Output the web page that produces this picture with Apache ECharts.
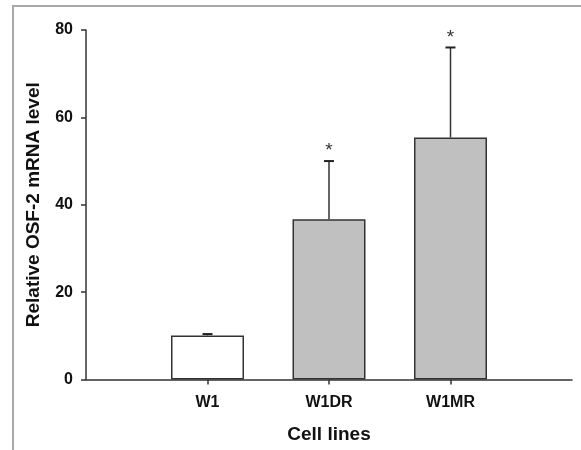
<!DOCTYPE html>
<html>
<head>
<meta charset="utf-8">
<script src="https://cdn.jsdelivr.net/npm/echarts@6/dist/echarts.min.js"></script>
<style>
html,body{margin:0;padding:0;background:#fff;}
#chart{width:581px;height:450px;}
</style>
</head>
<body>
<div id="chart"></div>
<script>
// ---- data ----
var categories = ['W1', 'W1DR', 'W1MR'];
var means = [10.1, 36.7, 55.4];
var errors = [0.3, 13.3, 20.6];
var significance = ['', '*', '*'];
var barColors = ['#ffffff', '#c0c0c0', '#c0c0c0'];
var yTickValues = [0, 20, 40, 60, 80];
var xTitle = 'Cell lines';
var yTitle = 'Relative OSF-2 mRNA level';

// padded category axis: empty slots at both ends (axis spans 4 intervals)
var axisCats = [''].concat(categories, ['']);
var barData = axisCats.map(function (c, i) {
  var k = i - 1;
  if (k < 0 || k >= categories.length) return '-';
  return { value: means[k], itemStyle: { color: barColors[k] } };
});
var errData = categories.map(function (c, k) {
  return [k + 1, means[k], means[k] + errors[k], significance[k]];
});

var FONT = 'Liberation Sans, Arial, sans-serif';
var chart = echarts.init(document.getElementById('chart'), null, { renderer: 'canvas' });
chart.setOption({
  animation: false,
  backgroundColor: '#ffffff',
  graphic: [{
    type: 'rect',
    shape: { x: 13, y: 6, width: 700, height: 600 },
    style: { fill: 'none', stroke: '#a8a8a8', lineWidth: 2 },
    z: -1
  }],
  grid: { left: 86, right: 9, top: 30, bottom: 70.5, containLabel: false },
  xAxis: {
    type: 'category',
    data: axisCats,
    boundaryGap: false,
    name: xTitle,
    nameLocation: 'middle',
    nameGap: 46,
    nameTextStyle: { fontFamily: FONT, fontWeight: 'bold', fontSize: 19, color: '#111' },
    axisLine: { lineStyle: { color: '#333', width: 1.5 } },
    axisTick: {
      show: true, length: 5, inside: false,
      interval: function (idx) { return idx >= 1 && idx <= categories.length; },
      lineStyle: { color: '#333', width: 1.5 }
    },
    axisLabel: {
      margin: 15,
      interval: 0,
      fontFamily: FONT, fontWeight: 'bold', fontSize: 16, color: '#111'
    },
    splitLine: { show: false }
  },
  yAxis: {
    type: 'value',
    min: yTickValues[0],
    max: yTickValues[yTickValues.length - 1],
    interval: yTickValues[1] - yTickValues[0],
    name: yTitle,
    nameLocation: 'middle',
    nameGap: 43,
    nameTextStyle: { fontFamily: FONT, fontWeight: 'bold', fontSize: 19, color: '#111' },
    axisLine: { show: true, lineStyle: { color: '#333', width: 1.5 } },
    axisTick: { show: true, length: 5, lineStyle: { color: '#333', width: 1.5 } },
    axisLabel: { margin: 13, fontFamily: FONT, fontWeight: 'bold', fontSize: 16, color: '#111' },
    splitLine: { show: false }
  },
  series: [{
    type: 'bar',
    data: barData,
    barWidth: 73,
    itemStyle: { borderColor: '#333', borderWidth: 1.5 },
    z: 2
  }, {
    type: 'custom',
    data: errData,
    z: 3,
    renderItem: function (params, api) {
      var x = api.value(0);
      var base = api.coord([x, api.value(1)]);
      var top = api.coord([x, api.value(2)]);
      var half = 5;
      var children = [{
        type: 'line',
        shape: { x1: base[0], y1: base[1], x2: top[0], y2: top[1] },
        style: { stroke: '#333', lineWidth: 1.5 }
      }, {
        type: 'line',
        shape: { x1: top[0] - half, y1: top[1], x2: top[0] + half, y2: top[1] },
        style: { stroke: '#222', lineWidth: 2 }
      }];
      var mark = api.value(3);
      if (mark) {
        children.push({
          type: 'text',
          style: {
            x: top[0], y: top[1] - 10, text: mark,
            fill: '#333', font: '19px ' + FONT,
            textAlign: 'center', textVerticalAlign: 'middle'
          }
        });
      }
      return { type: 'group', children: children };
    }
  }]
});
</script>
</body>
</html>
